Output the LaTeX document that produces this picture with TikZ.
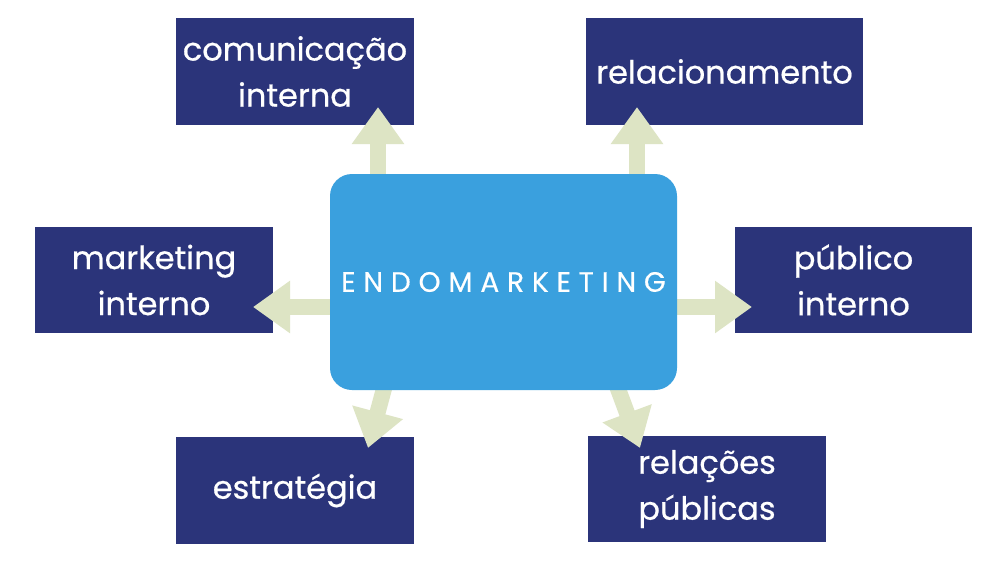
\documentclass[tikz,border=0pt]{standalone}
\usepackage{fontspec}
\setmainfont{Poppins}
\newfontfamily\leaffont[FakeBold=0.6]{Poppins}
\newfontfamily\spacedfont[LetterSpace=28,FakeBold=0.4]{Poppins}
\usetikzlibrary{arrows.meta}
\definecolor{navy}{RGB}{43,52,122}
\definecolor{skyblue}{RGB}{58,160,222}
\definecolor{palegreen}{RGB}{221,228,196}
\tikzset{
  leaf/.style={fill=navy, draw=none, text=white, align=center, inner sep=0pt,
    font=\leaffont\fontsize{32}{46}\selectfont},
  hub/.style={fill=skyblue, draw=none, rounded corners=22pt, text=white,
    minimum width=347pt, minimum height=216pt, font=\spacedfont\fontsize{28}{30}\selectfont},
  link/.style={palegreen, line width=16pt, -{Triangle[width=50pt,length=37pt]}}
}
\begin{document}
\begin{tikzpicture}[x=1pt,y=-1pt]
\useasboundingbox (0,0) rectangle (1004,568);
\fill[white] (0,0) rectangle (1004,568);
\node[leaf, minimum width=238pt, minimum height=107pt] (ci) at (295,71.5) {comunicação\\interna};
\node[leaf, minimum width=277pt, minimum height=107pt] (rel) at (724.5,71.5) {relacionamento};
\node[leaf, minimum width=238pt, minimum height=106pt] (mi) at (154,280) {marketing\\interno};
\node[leaf, minimum width=237pt, minimum height=106pt] (pi) at (853.5,280) {público\\interno};
\node[leaf, minimum width=238pt, minimum height=107pt] (es) at (295,490.5) {\raisebox{-3pt}{estratégia}};
\node[leaf, minimum width=238pt, minimum height=106pt] (rp) at (707,489) {\raisebox{-4pt}{relações}\\\raisebox{-4pt}{públicas}};
\coordinate (s1) at (378,200); \coordinate (t1) at (378,107);
\coordinate (s2) at (637,200); \coordinate (t2) at (637,107);
\coordinate (s3) at (360,307); \coordinate (t3) at (253,307);
\coordinate (s4) at (650,307); \coordinate (t4) at (752,307);
\coordinate (s5) at (389,370); \coordinate (t5) at (368,448);
\coordinate (s6) at (611,370); \coordinate (t6) at (640,448);
\draw[link] (s1) -- (t1);
\draw[link] (s2) -- (t2);
\draw[link] (s3) -- (t3);
\draw[link] (s4) -- (t4);
\draw[link] (s5) -- (t5);
\draw[link] (s6) -- (t6);
\node[hub] (hub) at (503.5,282) {ENDOMARKETING};
\end{tikzpicture}
\end{document}
